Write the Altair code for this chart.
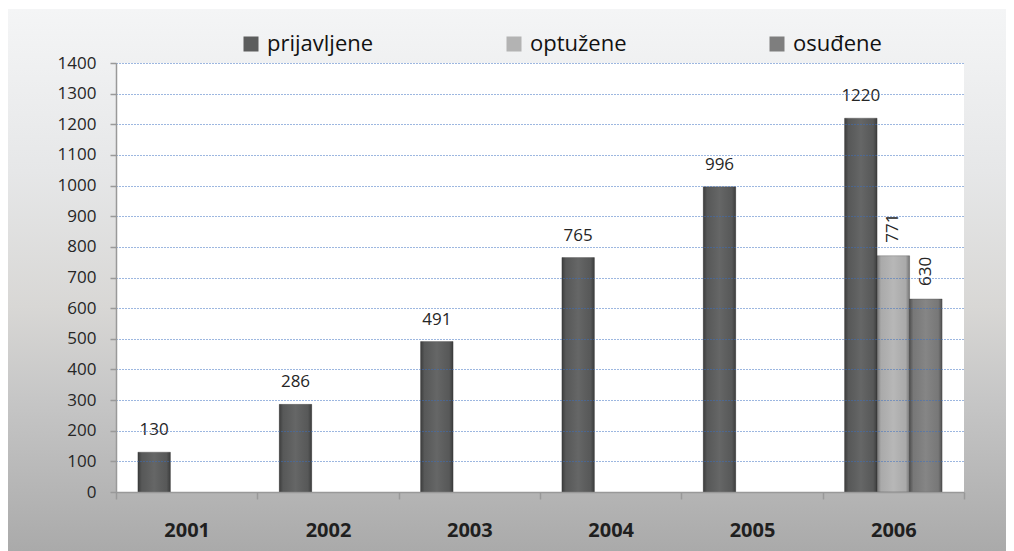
import altair as alt
import pandas as pd

years = ["2001", "2002", "2003", "2004", "2005", "2006"]
series = ["prijavljene", "optužene", "osuđene"]
prijavljene = [130, 286, 491, 765, 996, 1220]
optuzene = [None, None, None, None, None, 771]
osudjene = [None, None, None, None, None, 630]
y_ticks = list(range(0, 1401, 100))
colors = ["#5c5d5d", "#b3b3b3", "#7e7e7e"]

rows = []
for name, vals in zip(series, [prijavljene, optuzene, osudjene]):
    for yr, v in zip(years, vals):
        if v is not None:
            rows.append({"year": yr, "series": name, "value": v})
df = pd.DataFrame(rows)

W, H = 848, 429
PL, PT, PR, PB = 108, 55, 42, 59
FONT = "Open Sans"

one = pd.DataFrame({"k": [0]})

bg = alt.Chart(one).mark_rect(
    color=alt.Gradient(
        gradient="linear",
        stops=[
            alt.GradientStop(color="#f4f5f6", offset=0),
            alt.GradientStop(color="#e6e7e8", offset=0.3),
            alt.GradientStop(color="#d8d7d5", offset=0.55),
            alt.GradientStop(color="#c6c6c6", offset=0.72),
            alt.GradientStop(color="#aaaaaa", offset=1),
        ],
        x1=0, x2=0, y1=0, y2=1,
    )
).encode(x=alt.value(-PL), x2=alt.value(W + PR), y=alt.value(-PT + 1), y2=alt.value(H + PB))

plotbg = alt.Chart(one).mark_rect(color="white").encode(
    x=alt.value(0), x2=alt.value(W), y=alt.value(0), y2=alt.value(H)
)

xenc = alt.X(
    "year:N", sort=years,
    scale=alt.Scale(domain=years, paddingInner=0, paddingOuter=0),
    axis=alt.Axis(
        title=None, labelAngle=0, labelFont=FONT, labelFontSize=20, labelFontWeight="bold",
        labelColor="#1f1f1f", labelPadding=21, tickBand="extent", tickSize=7,
        tickColor="#999999", domainColor="#999999", domainWidth=1.5, tickWidth=1.5,
        grid=False, zindex=1,
    ),
)
xoff = alt.XOffset("series:N", sort=series,
                   scale=alt.Scale(domain=series, paddingInner=0, paddingOuter=0.674))
yenc = alt.Y(
    "value:Q",
    scale=alt.Scale(domain=[0, 1400], nice=False),
    axis=alt.Axis(
        title=None, values=y_ticks, format="d", labelFont=FONT, labelFontSize=17,
        labelColor="#262626", labelPadding=14, tickSize=6, tickColor="#999999",
        domainColor="#999999", domainWidth=1.5, tickWidth=1.5, grid=True,
        gridColor="#3b6fc0", gridDash=[1, 2], gridOpacity=1, gridWidth=1, zindex=1,
    ),
)

bars = alt.Chart(df).mark_bar(stroke="#3a3a3a", strokeWidth=0.6, strokeOpacity=0.5).encode(
    x=xenc, xOffset=xoff, y=yenc,
    color=alt.Color(
        "series:N", sort=series,
        scale=alt.Scale(domain=series, range=colors),
        legend=alt.Legend(
            title=None, orient="none", legendX=124, legendY=-30, direction="horizontal",
            columns=3, gridAlign="all", columnPadding=129, symbolType="square",
            symbolSize=225, labelFont=FONT, labelFontSize=22, labelColor="#111111",
            symbolStrokeWidth=0, labelOffset=5,
        ),
    ),
)

shade = alt.Chart(df).mark_bar(
    color=alt.Gradient(
        gradient="linear",
        stops=[
            alt.GradientStop(color="rgba(0,0,0,0.35)", offset=0),
            alt.GradientStop(color="rgba(0,0,0,0.05)", offset=0.12),
            alt.GradientStop(color="rgba(255,255,255,0.06)", offset=0.5),
            alt.GradientStop(color="rgba(0,0,0,0.05)", offset=0.88),
            alt.GradientStop(color="rgba(0,0,0,0.35)", offset=1),
        ],
        x1=0, x2=1, y1=0, y2=0,
    )
).encode(x=xenc, xOffset=xoff, y=yenc)

lab1 = alt.Chart(df).transform_filter(alt.datum.series == "prijavljene").mark_text(
    font=FONT, fontSize=17, color="#262626", dy=-22, baseline="middle", align="center"
).encode(x=xenc, xOffset=xoff, y=yenc, text="value:Q")

lab2 = alt.Chart(df).transform_filter(alt.datum.series != "prijavljene").mark_text(
    font=FONT, fontSize=17, color="#262626", angle=270, dx=13, baseline="middle", align="left"
).encode(x=xenc, xOffset=xoff, y=yenc, text="value:Q")

chart = alt.layer(bg, plotbg, bars, shade, lab1, lab2).properties(
    width=W, height=H,
    padding={"left": PL, "top": PT, "right": PR, "bottom": PB},
    autosize=alt.AutoSizeParams(type="none"),
).configure_view(stroke=None)

chart.save("out.html", embed_options={"renderer": "svg", "actions": False})
